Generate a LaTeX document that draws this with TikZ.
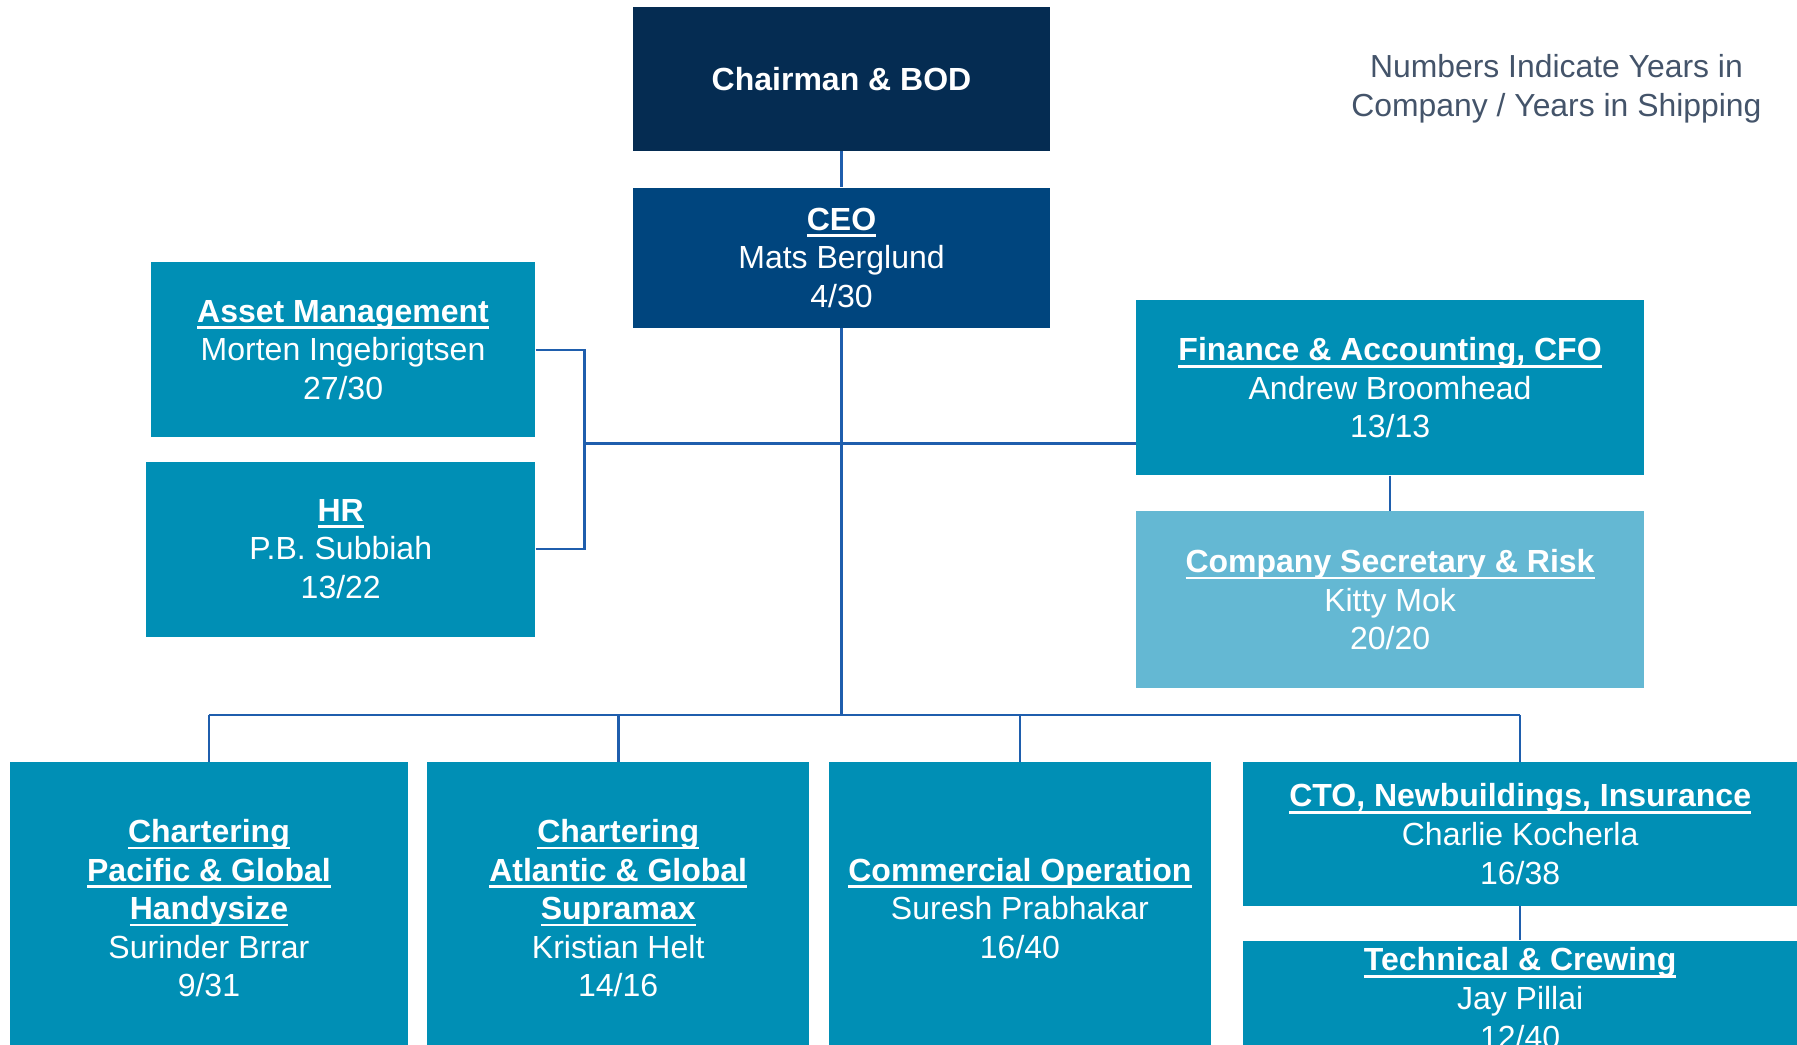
\documentclass[tikz,border=0pt]{standalone}
\usepackage{fontspec}
\setmainfont{Liberation Sans}
\definecolor{navy}{HTML}{052C52}
\definecolor{ceoblue}{HTML}{00457E}
\definecolor{teal}{HTML}{008FB5}
\definecolor{lteal}{HTML}{64B8D3}
\definecolor{linkblue}{HTML}{1F5EAD}
\definecolor{notegray}{HTML}{44546A}
\newsavebox{\hdbox}
\newcommand{\hd}[1]{\sbox{\hdbox}{\textbf{#1}}\rlap{\rule[-5.8pt]{\wd\hdbox}{2.3pt}}\usebox{\hdbox}}
\begin{document}
\begin{tikzpicture}[x=1pt,y=-1pt,
  box/.style={rectangle,inner sep=0pt,align=center,text=white,
    font=\fontsize{27.8}{33.5}\selectfont},
  conn/.style={draw=linkblue,line width=2.3pt}]
\useasboundingbox (0,0) rectangle (1561,907);
% boxes
\node[box,fill=navy,minimum width=362pt,minimum height=125pt] (chair) at (731,68.5) {\textbf{Chairman \& BOD}};
\node[box,fill=ceoblue,minimum width=362pt,minimum height=122pt] (ceo) at (731,224) {\hd{CEO}\\Mats Berglund\\4/30};
\node[box,fill=teal,minimum width=334pt,minimum height=152pt] (asset) at (298,304) {\hd{Asset Management}\\Morten Ingebrigtsen\\27/30};
\node[box,fill=teal,minimum width=338pt,minimum height=152pt] (hr) at (296,477) {\hd{HR}\\P.B. Subbiah\\13/22};
\node[box,fill=teal,minimum width=441pt,minimum height=152pt] (fin) at (1207.5,337) {\hd{Finance \& Accounting, CFO}\\Andrew Broomhead\\13/13};
\node[box,fill=lteal,minimum width=441pt,minimum height=154pt] (sec) at (1207.5,521) {\hd{Company Secretary \& Risk}\\Kitty Mok\\20/20};
\node[box,fill=teal,minimum width=345pt,minimum height=254pt] (b1) at (181.5,789) {\hd{Chartering}\\\hd{Pacific \& Global}\\\hd{Handysize}\\Surinder Brrar\\9/31};
\node[box,fill=teal,minimum width=332pt,minimum height=254pt] (b2) at (537,789) {\hd{Chartering}\\\hd{Atlantic \& Global}\\\hd{Supramax}\\Kristian Helt\\14/16};
\node[box,fill=teal,minimum width=332pt,minimum height=254pt] (b3) at (886,789) {\hd{Commercial Operation}\\Suresh Prabhakar\\16/40};
\node[box,fill=teal,minimum width=481pt,minimum height=125pt] (cto) at (1320.5,724.5) {\hd{CTO, Newbuildings, Insurance}\\Charlie Kocherla\\16/38};
\node[box,fill=teal,minimum width=481pt,minimum height=100pt] (tech) at (1320.5,867) {\hd{Technical \& Crewing}\\Jay Pillai\\12/40};
% note
\node[align=center,text=notegray,font=\fontsize{27.7}{33.5}\selectfont,inner sep=0pt] (note) at (1352,77) {Numbers Indicate Years in\\Company / Years in Shipping};
% connectors
\coordinate (hub) at (731,621);
\coordinate (jL) at (508,385);
\draw[conn] (chair.south) -- (ceo.north);
\draw[conn] (ceo.south) -- (hub);
\draw[conn] (jL) -- (jL -| fin.west);
\draw[conn] (asset.east) -| (jL);
\draw[conn] (hr.east) -| (jL);
\draw[conn] (fin.south) -- (sec.north);
\draw[conn] (b1.north |- hub) -- (cto.north |- hub);
\draw[conn] (b1.north |- hub) -- (b1.north);
\draw[conn] (b2.north |- hub) -- (b2.north);
\draw[conn] (b3.north |- hub) -- (b3.north);
\draw[conn] (cto.north |- hub) -- (cto.north);
\draw[conn] (cto.south) -- (tech.north);
\end{tikzpicture}
\end{document}
